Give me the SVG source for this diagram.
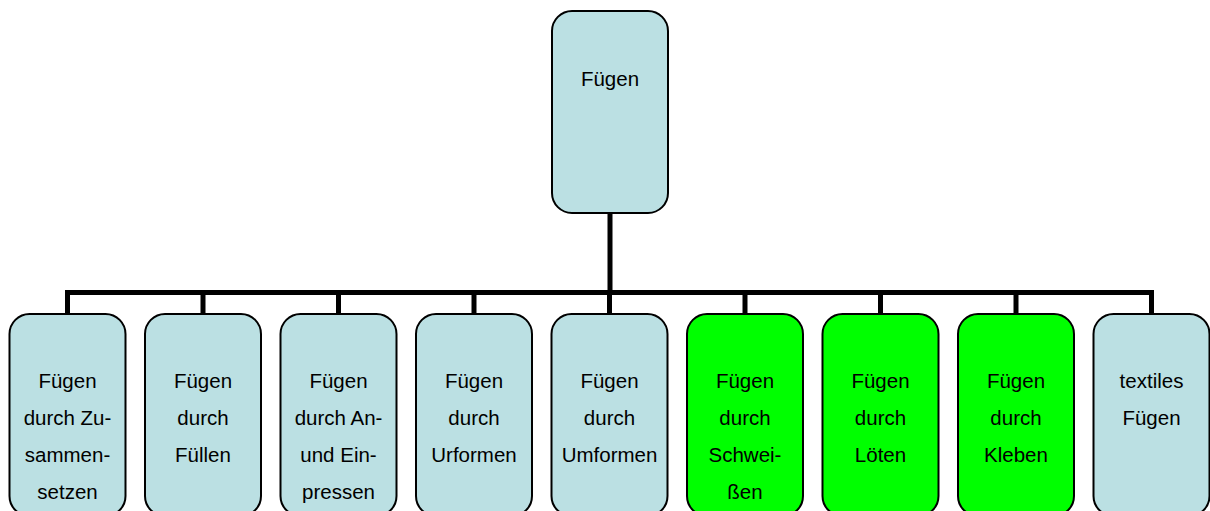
<svg xmlns="http://www.w3.org/2000/svg" width="1210" height="511" viewBox="0 0 1210 511">
<style>
.box{stroke:#000;stroke-width:2}
.blue{fill:#BBE0E3}
.green{fill:#00FF00}
.t{font-family:"Liberation Sans",Arial,sans-serif;font-size:20.5px;fill:#000;text-anchor:middle}
.c{stroke:#000;stroke-width:5;fill:none;stroke-linecap:butt}
</style>
<rect width="1210" height="511" fill="#fff"/>
<g id="connectors">
<path class="c" d="M610 213V292.5M67.5 292.5H1151.5M67.5 290V314M203 290V314M338.5 290V314M474 290V314M609.5 290V314M745 290V314M880.5 290V314M1016 290V314M1151.5 290V314"/>
</g>
<g id="root">
<rect class="box blue" x="552" y="11" width="116" height="202" rx="20"/>
<text class="t" x="610" y="86">Fügen</text>
</g>
<g id="n1">
<rect class="box blue" x="9.5" y="314" width="116" height="202" rx="20"/>
<text class="t" x="67.5" y="388">Fügen<tspan x="67.5" dy="37">durch Zu-</tspan><tspan x="67.5" dy="37">sammen-</tspan><tspan x="67.5" dy="37">setzen</tspan></text>
</g>
<g id="n2">
<rect class="box blue" x="145" y="314" width="116" height="202" rx="20"/>
<text class="t" x="203" y="388">Fügen<tspan x="203" dy="37">durch</tspan><tspan x="203" dy="37">Füllen</tspan></text>
</g>
<g id="n3">
<rect class="box blue" x="280.5" y="314" width="116" height="202" rx="20"/>
<text class="t" x="338.5" y="388">Fügen<tspan x="338.5" dy="37">durch An-</tspan><tspan x="338.5" dy="37">und Ein-</tspan><tspan x="338.5" dy="37">pressen</tspan></text>
</g>
<g id="n4">
<rect class="box blue" x="416" y="314" width="116" height="202" rx="20"/>
<text class="t" x="474" y="388">Fügen<tspan x="474" dy="37">durch</tspan><tspan x="474" dy="37">Urformen</tspan></text>
</g>
<g id="n5">
<rect class="box blue" x="551.5" y="314" width="116" height="202" rx="20"/>
<text class="t" x="609.5" y="388">Fügen<tspan x="609.5" dy="37">durch</tspan><tspan x="609.5" dy="37">Umformen</tspan></text>
</g>
<g id="n6">
<rect class="box green" x="687" y="314" width="116" height="202" rx="20"/>
<text class="t" x="745" y="388">Fügen<tspan x="745" dy="37">durch</tspan><tspan x="745" dy="37">Schwei-</tspan><tspan x="745" dy="37">ßen</tspan></text>
</g>
<g id="n7">
<rect class="box green" x="822.5" y="314" width="116" height="202" rx="20"/>
<text class="t" x="880.5" y="388">Fügen<tspan x="880.5" dy="37">durch</tspan><tspan x="880.5" dy="37">Löten</tspan></text>
</g>
<g id="n8">
<rect class="box green" x="958" y="314" width="116" height="202" rx="20"/>
<text class="t" x="1016" y="388">Fügen<tspan x="1016" dy="37">durch</tspan><tspan x="1016" dy="37">Kleben</tspan></text>
</g>
<g id="n9">
<rect class="box blue" x="1093.5" y="314" width="116" height="202" rx="20"/>
<text class="t" x="1151.5" y="388">textiles<tspan x="1151.5" dy="37">Fügen</tspan></text>
</g>
</svg>
